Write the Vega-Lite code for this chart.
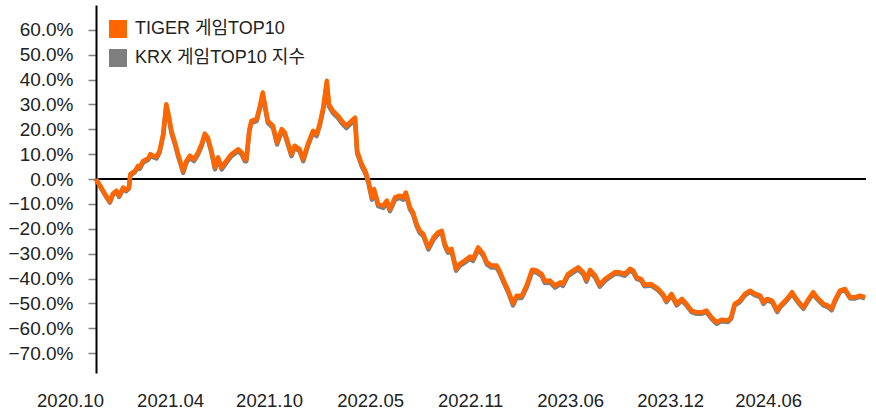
{
  "$schema": "https://vega.github.io/schema/vega-lite/v6.json",
  "width": 770,
  "height": 368,
  "autosize": "none",
  "padding": {"left": 96, "top": 5, "right": 10, "bottom": 38},
  "background": "white",
  "config": {
    "view": {"stroke": null},
    "font": "'Liberation Sans', 'Noto Sans CJK KR', sans-serif"
  },
  "data": {
    "values": [
      {"date":"2020-10-07","tiger":0.0,"krx":0.0},
      {"date":"2020-10-15","tiger":-2.7,"krx":-3.0},
      {"date":"2020-10-24","tiger":-5.8,"krx":-6.2},
      {"date":"2020-11-03","tiger":-9.0,"krx":-9.5},
      {"date":"2020-11-09","tiger":-5.8,"krx":-6.3},
      {"date":"2020-11-16","tiger":-4.7,"krx":-5.1},
      {"date":"2020-11-21","tiger":-6.7,"krx":-7.2},
      {"date":"2020-11-29","tiger":-3.4,"krx":-3.9},
      {"date":"2020-12-05","tiger":-4.4,"krx":-4.9},
      {"date":"2020-12-10","tiger":-3.4,"krx":-3.9},
      {"date":"2020-12-13","tiger":2.0,"krx":1.5},
      {"date":"2020-12-22","tiger":3.3,"krx":2.8},
      {"date":"2020-12-28","tiger":5.3,"krx":4.8},
      {"date":"2020-12-31","tiger":4.7,"krx":4.1},
      {"date":"2021-01-07","tiger":7.3,"krx":6.7},
      {"date":"2021-01-17","tiger":8.4,"krx":7.8},
      {"date":"2021-01-21","tiger":10.0,"krx":9.4},
      {"date":"2021-01-26","tiger":9.4,"krx":8.8},
      {"date":"2021-02-02","tiger":9.0,"krx":8.3},
      {"date":"2021-02-08","tiger":11.4,"krx":10.7},
      {"date":"2021-02-15","tiger":18.1,"krx":17.4},
      {"date":"2021-02-21","tiger":30.1,"krx":29.3},
      {"date":"2021-02-26","tiger":25.4,"krx":24.6},
      {"date":"2021-03-03","tiger":19.4,"krx":18.6},
      {"date":"2021-03-10","tiger":14.7,"krx":13.9},
      {"date":"2021-03-16","tiger":10.0,"krx":9.2},
      {"date":"2021-03-26","tiger":3.3,"krx":2.5},
      {"date":"2021-04-01","tiger":7.3,"krx":6.5},
      {"date":"2021-04-08","tiger":9.4,"krx":8.6},
      {"date":"2021-04-16","tiger":8.0,"krx":7.2},
      {"date":"2021-04-24","tiger":10.7,"krx":9.9},
      {"date":"2021-05-01","tiger":14.1,"krx":13.3},
      {"date":"2021-05-07","tiger":18.3,"krx":17.5},
      {"date":"2021-05-13","tiger":16.7,"krx":15.9},
      {"date":"2021-05-20","tiger":11.4,"krx":10.6},
      {"date":"2021-05-27","tiger":4.7,"krx":3.9},
      {"date":"2021-06-02","tiger":8.7,"krx":7.9},
      {"date":"2021-06-09","tiger":4.7,"krx":3.9},
      {"date":"2021-06-18","tiger":7.3,"krx":6.5},
      {"date":"2021-06-28","tiger":10.0,"krx":9.2},
      {"date":"2021-07-11","tiger":12.0,"krx":11.2},
      {"date":"2021-07-18","tiger":10.7,"krx":9.9},
      {"date":"2021-07-24","tiger":8.0,"krx":7.2},
      {"date":"2021-07-27","tiger":8.0,"krx":7.2},
      {"date":"2021-08-02","tiger":20.0,"krx":19.2},
      {"date":"2021-08-06","tiger":23.4,"krx":22.6},
      {"date":"2021-08-16","tiger":24.1,"krx":23.3},
      {"date":"2021-08-22","tiger":28.8,"krx":28.0},
      {"date":"2021-08-28","tiger":34.8,"krx":34.0},
      {"date":"2021-09-01","tiger":30.1,"krx":29.3},
      {"date":"2021-09-07","tiger":23.4,"krx":22.6},
      {"date":"2021-09-17","tiger":21.4,"krx":20.6},
      {"date":"2021-09-25","tiger":14.7,"krx":13.9},
      {"date":"2021-10-04","tiger":20.1,"krx":19.3},
      {"date":"2021-10-10","tiger":18.7,"krx":17.9},
      {"date":"2021-10-16","tiger":14.7,"krx":13.9},
      {"date":"2021-10-23","tiger":10.0,"krx":9.2},
      {"date":"2021-10-29","tiger":13.4,"krx":12.6},
      {"date":"2021-11-08","tiger":12.0,"krx":11.2},
      {"date":"2021-11-15","tiger":8.0,"krx":7.2},
      {"date":"2021-11-24","tiger":14.1,"krx":13.3},
      {"date":"2021-12-04","tiger":19.4,"krx":18.6},
      {"date":"2021-12-11","tiger":18.1,"krx":17.3},
      {"date":"2021-12-17","tiger":22.1,"krx":21.3},
      {"date":"2021-12-24","tiger":28.8,"krx":28.0},
      {"date":"2021-12-31","tiger":39.5,"krx":38.6},
      {"date":"2022-01-04","tiger":30.1,"krx":29.2},
      {"date":"2022-01-12","tiger":27.4,"krx":26.5},
      {"date":"2022-01-22","tiger":25.4,"krx":24.5},
      {"date":"2022-01-29","tiger":23.4,"krx":22.5},
      {"date":"2022-02-07","tiger":21.4,"krx":20.5},
      {"date":"2022-02-17","tiger":23.4,"krx":22.5},
      {"date":"2022-02-24","tiger":24.7,"krx":23.8},
      {"date":"2022-02-28","tiger":11.4,"krx":10.5},
      {"date":"2022-03-09","tiger":6.0,"krx":5.1},
      {"date":"2022-03-16","tiger":3.3,"krx":2.4},
      {"date":"2022-03-22","tiger":-0.7,"krx":-1.6},
      {"date":"2022-03-29","tiger":-7.4,"krx":-8.3},
      {"date":"2022-04-02","tiger":-4.0,"krx":-4.9},
      {"date":"2022-04-10","tiger":-10.0,"krx":-10.9},
      {"date":"2022-04-20","tiger":-10.7,"krx":-11.6},
      {"date":"2022-04-27","tiger":-8.7,"krx":-9.6},
      {"date":"2022-05-03","tiger":-12.0,"krx":-12.9},
      {"date":"2022-05-13","tiger":-7.4,"krx":-8.3},
      {"date":"2022-05-22","tiger":-6.7,"krx":-7.6},
      {"date":"2022-05-29","tiger":-7.4,"krx":-8.3},
      {"date":"2022-06-03","tiger":-5.4,"krx":-6.3},
      {"date":"2022-06-11","tiger":-11.4,"krx":-12.2},
      {"date":"2022-06-17","tiger":-13.4,"krx":-14.2},
      {"date":"2022-06-24","tiger":-18.1,"krx":-18.9},
      {"date":"2022-06-30","tiger":-20.8,"krx":-21.6},
      {"date":"2022-07-07","tiger":-22.1,"krx":-22.9},
      {"date":"2022-07-17","tiger":-27.5,"krx":-28.3},
      {"date":"2022-07-27","tiger":-23.5,"krx":-24.3},
      {"date":"2022-08-05","tiger":-21.4,"krx":-22.2},
      {"date":"2022-08-12","tiger":-20.8,"krx":-21.6},
      {"date":"2022-08-18","tiger":-26.1,"krx":-26.9},
      {"date":"2022-08-24","tiger":-28.8,"krx":-29.6},
      {"date":"2022-08-31","tiger":-28.1,"krx":-28.9},
      {"date":"2022-09-09","tiger":-36.1,"krx":-36.9},
      {"date":"2022-09-16","tiger":-34.1,"krx":-34.9},
      {"date":"2022-09-26","tiger":-32.8,"krx":-33.6},
      {"date":"2022-10-06","tiger":-31.2,"krx":-32.0},
      {"date":"2022-10-12","tiger":-32.1,"krx":-32.9},
      {"date":"2022-10-22","tiger":-27.5,"krx":-28.3},
      {"date":"2022-11-01","tiger":-30.1,"krx":-30.9},
      {"date":"2022-11-08","tiger":-33.5,"krx":-34.3},
      {"date":"2022-11-17","tiger":-34.8,"krx":-35.6},
      {"date":"2022-11-27","tiger":-34.8,"krx":-35.6},
      {"date":"2022-12-03","tiger":-37.0,"krx":-37.8},
      {"date":"2022-12-10","tiger":-40.5,"krx":-41.3},
      {"date":"2022-12-19","tiger":-44.5,"krx":-45.3},
      {"date":"2022-12-29","tiger":-50.0,"krx":-50.8},
      {"date":"2023-01-05","tiger":-46.9,"krx":-47.7},
      {"date":"2023-01-15","tiger":-47.0,"krx":-47.8},
      {"date":"2023-01-25","tiger":-42.5,"krx":-43.3},
      {"date":"2023-02-04","tiger":-36.5,"krx":-37.3},
      {"date":"2023-02-13","tiger":-36.8,"krx":-37.6},
      {"date":"2023-02-23","tiger":-38.2,"krx":-39.0},
      {"date":"2023-03-01","tiger":-41.0,"krx":-41.8},
      {"date":"2023-03-11","tiger":-40.8,"krx":-41.6},
      {"date":"2023-03-21","tiger":-42.9,"krx":-43.7},
      {"date":"2023-03-31","tiger":-41.5,"krx":-42.3},
      {"date":"2023-04-05","tiger":-42.2,"krx":-43.0},
      {"date":"2023-04-15","tiger":-38.2,"krx":-39.0},
      {"date":"2023-04-25","tiger":-36.8,"krx":-37.6},
      {"date":"2023-05-05","tiger":-35.5,"krx":-36.3},
      {"date":"2023-05-15","tiger":-37.5,"krx":-38.3},
      {"date":"2023-05-21","tiger":-40.5,"krx":-41.3},
      {"date":"2023-05-28","tiger":-36.5,"krx":-37.3},
      {"date":"2023-06-07","tiger":-38.8,"krx":-39.6},
      {"date":"2023-06-16","tiger":-42.5,"krx":-43.3},
      {"date":"2023-06-26","tiger":-40.2,"krx":-41.0},
      {"date":"2023-07-06","tiger":-38.8,"krx":-39.5},
      {"date":"2023-07-15","tiger":-37.5,"krx":-38.2},
      {"date":"2023-07-25","tiger":-37.5,"krx":-38.2},
      {"date":"2023-08-04","tiger":-38.2,"krx":-38.9},
      {"date":"2023-08-14","tiger":-36.1,"krx":-36.8},
      {"date":"2023-08-20","tiger":-36.8,"krx":-37.5},
      {"date":"2023-08-27","tiger":-39.5,"krx":-40.2},
      {"date":"2023-09-05","tiger":-40.2,"krx":-40.9},
      {"date":"2023-09-11","tiger":-42.5,"krx":-43.1},
      {"date":"2023-09-24","tiger":-42.2,"krx":-42.8},
      {"date":"2023-10-08","tiger":-44.2,"krx":-44.8},
      {"date":"2023-10-17","tiger":-46.2,"krx":-46.8},
      {"date":"2023-10-24","tiger":-48.9,"krx":-49.5},
      {"date":"2023-11-03","tiger":-46.2,"krx":-46.8},
      {"date":"2023-11-13","tiger":-50.2,"krx":-50.8},
      {"date":"2023-11-23","tiger":-48.2,"krx":-48.8},
      {"date":"2023-12-02","tiger":-50.2,"krx":-50.8},
      {"date":"2023-12-12","tiger":-52.9,"krx":-53.5},
      {"date":"2023-12-22","tiger":-53.6,"krx":-54.2},
      {"date":"2023-12-31","tiger":-53.6,"krx":-54.2},
      {"date":"2024-01-10","tiger":-52.9,"krx":-53.5},
      {"date":"2024-01-20","tiger":-55.6,"krx":-56.2},
      {"date":"2024-01-30","tiger":-57.6,"krx":-58.2},
      {"date":"2024-02-08","tiger":-56.6,"krx":-57.2},
      {"date":"2024-02-21","tiger":-56.9,"krx":-57.5},
      {"date":"2024-02-27","tiger":-55.6,"krx":-56.2},
      {"date":"2024-03-05","tiger":-50.2,"krx":-50.8},
      {"date":"2024-03-15","tiger":-48.9,"krx":-49.5},
      {"date":"2024-03-25","tiger":-46.2,"krx":-46.8},
      {"date":"2024-04-04","tiger":-44.9,"krx":-45.5},
      {"date":"2024-04-14","tiger":-46.2,"krx":-46.8},
      {"date":"2024-04-24","tiger":-46.9,"krx":-47.5},
      {"date":"2024-04-30","tiger":-49.6,"krx":-50.2},
      {"date":"2024-05-07","tiger":-48.2,"krx":-48.8},
      {"date":"2024-05-17","tiger":-48.9,"krx":-49.5},
      {"date":"2024-05-27","tiger":-52.9,"krx":-53.5},
      {"date":"2024-06-02","tiger":-50.9,"krx":-51.5},
      {"date":"2024-06-15","tiger":-48.2,"krx":-48.8},
      {"date":"2024-06-25","tiger":-45.5,"krx":-46.1},
      {"date":"2024-07-01","tiger":-47.5,"krx":-48.1},
      {"date":"2024-07-11","tiger":-50.2,"krx":-50.8},
      {"date":"2024-07-17","tiger":-51.6,"krx":-52.2},
      {"date":"2024-07-27","tiger":-48.2,"krx":-48.8},
      {"date":"2024-08-05","tiger":-45.5,"krx":-46.1},
      {"date":"2024-08-12","tiger":-47.5,"krx":-48.1},
      {"date":"2024-08-25","tiger":-50.2,"krx":-50.8},
      {"date":"2024-09-03","tiger":-50.9,"krx":-51.5},
      {"date":"2024-09-10","tiger":-52.2,"krx":-52.8},
      {"date":"2024-09-16","tiger":-48.9,"krx":-49.5},
      {"date":"2024-09-26","tiger":-44.9,"krx":-45.4},
      {"date":"2024-10-06","tiger":-44.2,"krx":-44.7},
      {"date":"2024-10-16","tiger":-47.5,"krx":-48.0},
      {"date":"2024-10-26","tiger":-47.5,"krx":-48.0},
      {"date":"2024-11-04","tiger":-46.9,"krx":-47.4},
      {"date":"2024-11-14","tiger":-47.5,"krx":-48.0}
    ]
  },
  "encoding": {
    "x": {
      "field": "date",
      "type": "temporal",
      "scale": {"domain": [{"year": 2020, "month": 10, "date": 7}, {"year": 2024, "month": 11, "date": 16}]},
      "axis": {
        "title": null,
        "domain": false,
        "ticks": false,
        "grid": false,
        "format": "%Y.%m",
        "tickCount": 20,
        "values": [
          {"year": 2020, "month": 10, "date": 7},
          {"year": 2021, "month": 4, "date": 20},
          {"year": 2021, "month": 10, "date": 30},
          {"year": 2022, "month": 5, "date": 15},
          {"year": 2022, "month": 11, "date": 26},
          {"year": 2023, "month": 6, "date": 9},
          {"year": 2023, "month": 12, "date": 21},
          {"year": 2024, "month": 6, "date": 29}
        ],
        "labelOffset": -26,
        "labelPadding": 18,
        "labelBaseline": "top",
        "labelFontSize": 18.5,
        "labelColor": "#222222",
        "labelOverlap": false,
        "labelBound": false,
        "labelFlush": false
      }
    }
  },
  "layer": [
    {
      "mark": {"type": "rule", "color": "#000000", "strokeWidth": 1},
      "encoding": {"y": {"datum": 0, "type": "quantitative"}, "x": null}
    },
    {
      "mark": {"type": "line", "strokeWidth": 4.5, "strokeJoin": "round"},
      "encoding": {
        "y": {
          "field": "krx",
          "type": "quantitative",
          "scale": {"domain": [-78, 70], "nice": false, "zero": false},
          "axis": {
            "title": null,
            "grid": false,
            "tickCount": 20,
            "values": [-70, -60, -50, -40, -30, -20, -10, 0, 10, 20, 30, 40, 50, 60],
            "labelExpr": "format(datum.value, '.1f') + '%'",
            "labelFontSize": 19,
            "labelColor": "#222222",
            "labelPadding": 15,
            "labelOverlap": false,
            "labelBound": false,
            "labelFlush": false,
            "domainColor": "#000000",
            "domainWidth": 2,
            "tickColor": "#808080",
            "tickSize": 8,
            "tickWidth": 1.5
          }
        },
        "color": {"datum": "KRX 게임TOP10 지수"}
      }
    },
    {
      "mark": {"type": "line", "strokeWidth": 4.5, "strokeJoin": "round"},
      "encoding": {
        "y": {"field": "tiger", "type": "quantitative"},
        "color": {
          "datum": "TIGER 게임TOP10",
          "scale": {"domain": ["TIGER 게임TOP10", "KRX 게임TOP10 지수"], "range": ["#FF6600", "#7F7F7F"]},
          "legend": {
            "title": null,
            "orient": "none",
            "legendX": 13,
            "legendY": 15,
            "symbolType": "square",
            "symbolSize": 324,
            "symbolStrokeWidth": 0,
            "labelFontSize": 18,
            "labelLimit": 400,
            "labelColor": "#222222",
            "labelOffset": 8,
            "rowPadding": 11,
            "padding": 0,
            "encode": {"symbols": {"update": {"fill": {"scale": "color", "field": "value"}, "strokeWidth": {"value": 0}}}}
          }
        }
      }
    }
  ]
}
